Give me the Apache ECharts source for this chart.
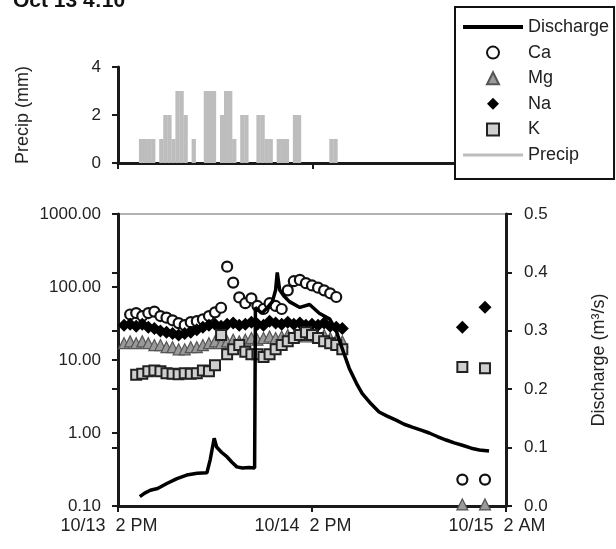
<!DOCTYPE html>
<html>
<head>
<meta charset="utf-8">
<script src="https://cdn.jsdelivr.net/npm/echarts@6/dist/echarts.min.js"></script>
<style>
  html, body { margin: 0; padding: 0; background: #fff; }
  #myChart { width: 616px; height: 549px; }
</style>
</head>
<body>
<div id="myChart"></div>
<script>
// hours after 10/13 2 PM
var xTickLabels = { 0: '10/13  2 PM', 24: '10/14  2 PM', 48: '10/15  2 AM' }

// precipitation, half-hour bins starting at 2.6 h
var precipStart = 2.6
var precipStep = 0.5
var precipValues = [1, 1, 1, 1, 0, 1, 2, 2, 1, 3, 3, 2, 0, 1, 0, 0, 3, 3, 3, 0,
  2, 3, 3, 1, 0, 2, 2, 0, 0, 2, 2, 1, 1, 0, 1, 1, 1, 0, 2, 2,
  0, 0, 0, 0, 0, 0, 0, 1, 1]

// discharge (m3/s)
var dischargeHours = [2.7, 3.3, 4.0, 4.9, 6.1, 7.3, 8.5, 9.8, 11.0, 11.4, 11.9, 12.2, 12.8, 13.5, 14.1, 14.7,
  15.4, 16.2, 16.9, 17.0, 17.8, 18.5, 19.1, 19.5, 19.7, 20.0, 20.5, 21.2, 22.5, 23.7, 24.9, 26.2,
  27.0, 27.6, 28.6, 29.5, 30.2, 31.3, 32.3, 33.3, 34.4, 35.4, 36.4, 37.5, 38.5, 39.5, 40.6, 41.6,
  42.6, 43.7, 44.7, 45.9]
var dischargeValues = [0.016, 0.022, 0.027, 0.030, 0.039, 0.047, 0.053, 0.056, 0.057, 0.079, 0.116, 0.101, 0.092, 0.084, 0.075, 0.067,
  0.065, 0.066, 0.065, 0.340, 0.330, 0.340, 0.350, 0.370, 0.400, 0.370, 0.360, 0.350, 0.340, 0.345, 0.330, 0.320,
  0.300, 0.275, 0.236, 0.210, 0.193, 0.175, 0.161, 0.154, 0.147, 0.140, 0.135, 0.130, 0.125, 0.119, 0.113, 0.108,
  0.104, 0.099, 0.096, 0.094]

// concentration samples
var sampleHours = [0.75, 1.5, 2.25, 3, 3.75, 4.5, 5.25, 6, 6.75, 7.5, 8.25, 9, 9.75, 10.5, 11.25, 12,
  12.75, 13.5, 14.25, 15, 15.75, 16.5, 17.25, 18, 18.75, 19.5, 20.25, 21, 21.75, 22.5, 23.25, 24,
  24.75, 25.5, 26.25, 27, 27.75, 42.6, 45.4]
var caValues = [null, 42, 44, 40, 44, 46, 40, 38, 35, 32, 30, 33, 34, 36, 40, 45,
  52, 190, 115, 72, 60, 70, 55, 50, 60, 55, 50, 90, 120, 125, 113, 105,
  98, 90, 82, 73, null, 0.23, 0.23]
var mgValues = [17, 18, 17, 18, 17, 16, 16, 15, 15, 14, 14, 15, 15, 16, 17, 18,
  17, 18, 19, 18, 19, 20, 19, 20, 21, 20, 21, 22, 21, 22, 21, 22,
  21, 22, 20, 19, 18, 0.105, 0.105]
var naValues = [30, 31, 29, 31, 28, 27, 25, 24, 23, 22, 23, 24, 26, 28, 30, 31,
  29, 31, 32, 30, 31, 33, 31, 30, 34, 32, 31, 33, 31, 32, 30, 31,
  30, 32, 29, 28, 27, 28, 53]
var kValues = [null, null, 6.3, 6.5, 7.0, 7.2, 7.0, 6.6, 6.5, 6.4, 6.6, 6.5, 6.6, 7.2, 7.0, 8.5,
  22, 12, 14, 16, 13, 12, 12, 11, 12, 14, 16, 18, 20, 22, 24, 22,
  20, 18, 17, 16, 14, 8.0, 7.7]

function pairs(xs, ys) {
  var out = []
  for (var i = 0; i < xs.length; i++) {
    if (ys[i] != null) out.push([xs[i], ys[i]])
  }
  return out
}

var precipData = []
for (var i = 0; i < precipValues.length; i++) {
  if (precipValues[i] > 0) precipData.push([precipStart + precipStep * (i + 0.5), precipValues[i]])
}

var FONT = 'Liberation Sans, Arial, sans-serif'
var AXIS = '#1a1a1a'
var PRECIP_GRAY = '#bdbdbd'

var axisLine = { show: true, lineStyle: { color: AXIS, width: 3 } }
var axisTick = { show: true, length: 6, lineStyle: { color: AXIS, width: 2 } }
var labelStyle = { color: '#222', fontSize: 17, fontFamily: FONT }

var myChart = echarts.init(document.getElementById('myChart'), null, { renderer: 'canvas' })

myChart.setOption({
  animation: false,
  backgroundColor: '#fff',
  graphic: [{
    type: 'text', left: 13, top: -9,
    style: { text: 'Oct 13 4:10', font: 'bold 21px ' + FONT, fill: '#111' }
  }],
  legend: {
    orient: 'vertical',
    left: 455, top: 7,
    itemWidth: 60, itemHeight: 12, itemGap: 7.6,
    padding: [11, 5, 15, 8],
    symbolKeepAspect: true,
    borderColor: '#111', borderWidth: 2, borderRadius: 0,
    backgroundColor: '#fff',
    textStyle: { fontSize: 18, fontFamily: FONT, color: '#222' },
    data: [
      { name: 'Discharge', icon: 'path://M0,0 H60 V4 H0 Z' },
      { name: 'Ca', icon: 'circle' },
      { name: 'Mg', icon: 'path://M5,0 L10,10 L0,10 Z' },
      { name: 'Na', icon: 'path://M5,0 L10,5 L5,10 L0,5 Z' },
      { name: 'K', icon: 'path://M0,0 H10 V10 H0 Z' },
      { name: 'Precip', icon: 'path://M0,0 H60 V3 H0 Z' }
    ]
  },
  grid: [
    { left: 118, top: 67, width: 337, height: 96 },
    { left: 118, top: 214, width: 389, height: 292, show: true, borderColor: '#999', borderWidth: 1.5, backgroundColor: 'transparent' },
    { left: 118, top: 214, width: 389, height: 292 }
  ],
  xAxis: [
    { gridIndex: 0, type: 'value', min: 0, max: 41.6, interval: 24,
      axisLine: axisLine, axisTick: axisTick, axisLabel: { show: false }, splitLine: { show: false } },
    { gridIndex: 1, type: 'value', min: 0, max: 48, interval: 24,
      axisLine: axisLine, axisTick: axisTick, splitLine: { show: false },
      axisLabel: Object.assign({}, labelStyle, { fontSize: 18, margin: 11, padding: [0, 18, 0, 0],
        formatter: function (v) { return xTickLabels[v] || '' } }) },
    { gridIndex: 2, type: 'value', min: 0, max: 48, show: false }
  ],
  yAxis: [
    { gridIndex: 0, type: 'value', min: 0, max: 4, interval: 2,
      name: 'Precip (mm)', nameLocation: 'middle', nameGap: 86,
      nameTextStyle: { fontSize: 18, fontFamily: FONT, color: '#222' },
      axisLine: axisLine, axisTick: axisTick, splitLine: { show: false },
      axisLabel: Object.assign({ margin: 17 }, labelStyle) },
    { gridIndex: 1, type: 'log', logBase: 10, min: 0.1, max: 1000,
      axisLine: axisLine, axisTick: axisTick, splitLine: { show: false }, minorTick: { show: false },
      axisLabel: Object.assign({ margin: 17, formatter: function (v) { return Number(v).toFixed(2) } }, labelStyle) },
    { gridIndex: 1, type: 'value', position: 'right', min: 0, max: 0.5, interval: 0.1,
      name: 'Discharge (m³/s)', nameLocation: 'middle', nameGap: 84,
      nameTextStyle: { fontSize: 18, fontFamily: FONT, color: '#222' },
      axisLine: axisLine, axisTick: axisTick, splitLine: { show: false },
      axisLabel: Object.assign({ margin: 18, formatter: function (v) { return Number(v).toFixed(1) } }, labelStyle) },
    // inward half of the crossing ticks on the discharge axis
    { gridIndex: 2, type: 'value', position: 'right', min: 0, max: 0.5, interval: 0.1,
      axisLine: { show: false }, axisLabel: { show: false }, splitLine: { show: false },
      axisTick: { show: true, inside: true, length: 6, lineStyle: { color: AXIS, width: 2 } } }
  ],
  series: [
    { name: 'Precip', type: 'bar', xAxisIndex: 0, yAxisIndex: 0, barWidth: 4.3,
      itemStyle: { color: PRECIP_GRAY }, data: precipData },
    { name: 'Ca', type: 'scatter', xAxisIndex: 1, yAxisIndex: 1, symbol: 'circle', symbolSize: 10,
      itemStyle: { color: '#fff', borderColor: '#111', borderWidth: 2.2, opacity: 1 }, data: pairs(sampleHours, caValues) },
    { name: 'Mg', type: 'scatter', xAxisIndex: 1, yAxisIndex: 1, symbol: 'triangle', symbolSize: 11,
      itemStyle: { color: '#9a9a9a', borderColor: '#555', borderWidth: 1.2, opacity: 1 }, data: pairs(sampleHours, mgValues) },
    { name: 'Na', type: 'scatter', xAxisIndex: 1, yAxisIndex: 1, symbol: 'diamond', symbolSize: 13,
      itemStyle: { color: '#000', opacity: 1 }, data: pairs(sampleHours, naValues) },
    { name: 'K', type: 'scatter', xAxisIndex: 1, yAxisIndex: 1, symbol: 'rect', symbolSize: 10,
      itemStyle: { color: '#cfcfcf', borderColor: '#222', borderWidth: 2, opacity: 1 }, data: pairs(sampleHours, kValues) },
    { name: 'Discharge', type: 'line', xAxisIndex: 1, yAxisIndex: 2, symbol: 'none',
      lineStyle: { color: '#000', width: 3.5 }, itemStyle: { color: '#000' },
      data: pairs(dischargeHours, dischargeValues) }
  ]
})
</script>
</body>
</html>
